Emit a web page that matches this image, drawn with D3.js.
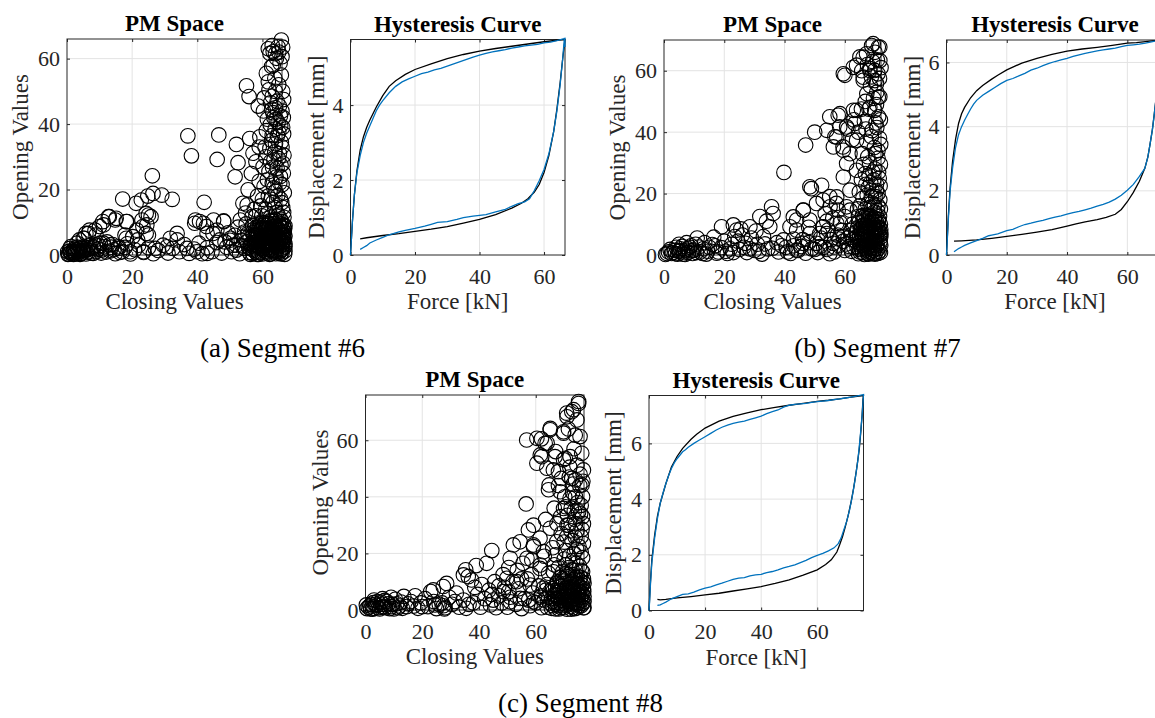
<!DOCTYPE html>
<html>
<head>
<meta charset="utf-8">
<script src="https://cdn.jsdelivr.net/npm/d3@7"></script>
<style>
  body { margin: 0; background: #fff; }
  text { font-family: "Liberation Serif", "Times New Roman", serif; }
</style>
</head>
<body>
<div id="fig"></div>
<script>
// --- 1. DATA ---
const pmTicks = [0, 20, 40, 60];
const captions = ["(a) Segment #6", "(b) Segment #7", "(c) Segment #8"];

// PM space, segment #6: [closing, opening]
const pmA = [
  [37.1,36.4],[38.2,30.3],[46.6,36.7],[46.1,29.2],[26.2,24.2],[17.1,17.1],[21.2,15.8],[22.8,16.8],[24.8,18.0],[26.4,18.8],
  [29.1,18.3],[32.3,17.0],[42.1,16.1],[52.0,33.8],[52.5,28.2],[51.6,23.9],[55.1,51.7],[55.9,48.4],[58.7,45.5],[56.1,35.6],
  [59.2,36.1],[57.1,31.1],[56.6,24.9],[55.6,19.9],[54.0,15.8],
  [62.3,61.6],[63.3,62.1],[64.8,63.6],[65.8,65.7],[64.3,60.1],[62.8,57.6],[61.2,55.5],[63.8,54.0],[61.8,52.9],[65.4,58.6],
  [66.0,60.6],[63.0,48.5],[62.0,50.5],[64.5,47.0],[66.0,44.0],[63.5,42.0],[61.5,41.5],[64.8,40.5],[66.2,39.0],[65.0,37.5],
  [63.0,36.5],[64.0,34.0],[62.3,32.5],[66.0,33.0],[65.2,31.0],[61.0,30.0],[63.5,29.0],[66.3,28.0],[64.5,26.5],[62.0,25.5],
  [65.5,24.0],[63.0,22.0],[60.5,21.0],[66.0,21.5],[64.0,19.5],[61.8,18.0],[65.6,17.0],[63.2,16.0],[59.5,15.0],[66.2,14.5],
  [64.4,13.0],[61.5,12.5],[58.0,12.0],[65.5,11.0],[63.0,10.5],[60.0,10.0],[57.0,9.0],
  [64.0,45.0],[65.5,42.5],[62.8,44.5],[65.0,52.0],[66.2,50.0],[63.3,58.0],
  [62.5,11.5],[64.8,12.2],[66.5,13.0],[63.8,14.5],[65.9,16.0],[62.6,17.0],[64.7,18.2],[66.7,19.0],[63.5,20.5],[65.3,22.0],
  [61.5,23.0],[64.2,23.8],[66.4,25.0],[63.1,26.8],[65.7,27.5],[62.5,28.5],[64.9,29.5],[66.6,30.5],[63.8,31.5],[65.8,34.5],
  [62.8,35.0],[64.6,36.5],[66.5,37.0],[63.9,38.5],[65.6,39.5],[62.4,39.8],[64.2,41.5],[66.4,42.0],[63.2,43.5],[65.2,45.5],
  [60.2,27.0],[59.0,22.5],[58.5,18.0],[60.0,17.0],[61.0,14.0],[59.8,12.0],[57.5,14.0],[60.8,33.0],[61.2,38.0],[58.0,28.5],
  [64.0,50.0],[65.8,55.0],[62.5,46.5],[66.5,47.5],[60.5,48.0],[63.0,64.0],[64.0,61.5],[65.0,62.0],[66.2,63.5],[61.8,63.0],
  [60.3,44.0],[59.0,33.0],
  [11.0,10.2],[13.0,11.7],[15.1,11.2],[18.2,10.2],[10.0,8.7],[6.9,7.6],[5.8,6.6],[8.9,6.1],[3.8,4.6],[5.3,5.1],
  [24.3,12.7],[25.8,11.7],[23.3,8.7],[21.7,4.6],[24.3,6.6],[20.2,5.6],[18.2,5.1],[39.2,9.7],[40.7,10.2],[42.8,8.7],
  [48.1,10.4],[44.8,6.6],[46.9,4.6],
  [12.7,11.7],[14.8,10.7],[18.4,10.2],[23.0,10.7],[25.0,12.2],[24.5,9.2],[21.4,7.6],[25.0,6.1],[17.8,6.1],[11.2,9.2],
  [8.6,7.6],[6.6,6.6],[5.0,5.1],[39.4,10.7],[41.9,9.7],[45.0,10.7],[48.1,10.2],[55.3,15.3],[54.8,12.8],[53.2,10.7],
  [56.8,11.7],
  [0.5,0.3],[1.2,0.8],[2.0,0.2],[2.8,1.5],[3.5,0.6],[4.2,2.2],[5.0,1.0],[5.8,0.3],[6.5,2.8],[7.2,1.2],
  [8.0,0.5],[8.8,3.0],[9.5,1.8],[10.5,0.6],[11.5,2.5],[12.3,4.0],[13.2,1.2],[14.0,3.2],[14.8,0.4],[15.8,2.0],
  [17.0,1.0],[18.5,3.4],[19.5,0.3],[20.8,1.6],[22.0,3.0],[23.5,0.8],[25.0,2.2],[26.5,0.4],[28.0,1.4],[29.5,3.0],
  [31.0,0.6],[32.5,2.0],[33.8,4.6],[34.5,1.0],[36.0,3.2],[37.5,0.5],[39.0,1.8],[40.5,3.6],[41.5,0.4],[43.0,2.2],
  [44.5,1.0],[46.0,3.8],[47.5,0.6],[49.0,2.4],[50.0,4.5],[50.5,1.0],[52.0,3.0],[53.0,0.4],[54.0,5.5],[54.5,2.0],
  [55.5,6.5],[56.0,0.8],
  [0.8,1.2],[1.5,0.4],[2.2,1.8],[2.6,0.9],[3.1,2.4],[3.8,1.3],[4.4,0.5],[4.9,2.0],[5.5,1.5],[6.1,0.8],
  [6.8,1.9],[7.5,0.6],[8.2,2.2],[9.0,1.0],[9.8,2.8],[10.6,1.5],[11.2,3.6],[12.0,0.9],[13.6,2.4],[14.4,1.6],
  [16.2,0.8],[17.8,2.3],[0.9,2.0],[0.2,1.0],[3.0,3.6],[8.1,2.5],[10.2,3.6],[13.2,3.1],[15.8,2.5],[19.4,1.0],
  [23.5,1.0],[27.1,2.0],[30.7,2.5],[36.8,2.0],[39.9,1.0],[43.0,0.5],[31.7,5.1],[33.8,6.6],[43.0,6.6],[46.0,7.6],
  [50.2,5.1],[51.5,6.0],[52.5,8.5],[53.5,4.5],[54.5,7.0],[55.0,9.5],[52.0,1.5],[53.8,2.8],[55.2,4.0],[51.0,3.0],
  [49.5,6.8],[48.5,4.0],
  [0.3,0.2],[1.0,0.6],[1.8,1.2],[2.5,0.3],[3.2,1.0],[4.0,0.2],[1.2,2.6],[2.0,0.8],[3.4,1.8],[4.6,1.4],
  [5.2,2.6],[6.2,1.6],
  [57.0,0.5],[57.5,2.5],[57.8,4.8],[58.2,7.0],[58.5,1.2],[58.9,3.5],[59.3,5.8],[59.6,8.2],[60.0,0.3],[60.3,2.0],
  [60.6,4.2],[60.9,6.5],[61.2,9.0],[61.5,1.0],[61.8,3.0],[62.1,5.2],[62.4,7.5],[62.7,0.4],[63.0,2.3],[63.2,4.5],
  [63.5,6.8],[63.8,8.8],[64.0,1.5],[64.2,3.6],[64.5,5.6],[64.7,7.8],[65.0,0.6],[65.2,2.6],[65.5,4.3],[65.7,6.2],
  [66.0,8.5],[66.2,1.8],[66.4,3.9],[66.6,5.4],[66.8,0.2],[66.5,7.2],[65.8,9.5],[64.9,9.8],[63.6,0.9],[62.0,1.6],
  [61.0,3.8],[60.2,5.0],[59.0,0.8],[58.0,3.0],[57.2,6.0],[56.5,3.5],[56.8,1.8],[60.5,7.5],[62.8,6.0],[64.3,2.4],
  [65.4,1.2],[66.1,3.0],[66.7,4.6],[66.3,6.0],[65.9,7.0],[64.6,8.3],[63.4,3.2],[62.5,4.0],[61.6,6.2],[59.8,2.8],
  [58.6,4.4],
  [57.3,1.5],[57.6,3.8],[58.0,5.9],[58.4,8.5],[58.8,0.2],[59.1,2.2],[59.5,4.3],[59.9,6.7],[60.4,9.2],[60.8,1.2],
  [61.1,3.2],[61.4,5.4],[61.7,7.9],[62.2,0.2],[62.6,2.8],[62.9,5.0],[63.3,7.3],[63.7,9.6],[64.1,0.4],[64.4,3.0],
  [64.8,5.2],[65.1,7.4],[65.3,9.0],[65.6,0.3],[65.9,2.1],[66.2,4.1],[66.5,6.4],[66.8,8.0],[66.9,2.5],[66.9,5.8],
  [66.0,0.6],[65.0,3.5],[64.0,6.4],[63.0,8.2],[62.0,9.5],[61.0,7.0],[60.0,4.6],[59.0,2.6],[58.3,6.2],[57.5,8.0],
  [56.2,5.0],[55.8,2.2],[56.3,0.2],[61.3,0.6],[63.9,4.9],[65.6,5.1],[66.4,9.2],[62.3,3.4],[60.7,2.6],[59.4,7.4],
  [57.1,3.1],[57.4,5.3],[57.9,7.4],[58.1,0.8],[58.7,2.8],[59.2,5.1],[59.7,7.8],[60.1,1.6],[60.5,3.5],[60.9,5.7],
  [61.3,8.2],[61.6,2.2],[62.0,4.4],[62.3,6.6],[62.7,1.4],[63.1,3.6],[63.4,5.8],[63.8,7.9],[64.2,0.9],[64.6,2.9],
  [64.9,4.8],[65.2,6.8],[65.5,8.4],[65.8,1.5],[66.1,3.6],[66.4,5.2],[66.7,7.0],[66.9,1.2],[66.9,3.4],[66.9,8.9],
  [56.6,2.8],[56.9,6.8],[57.7,9.2],[59.2,9.5],[60.7,9.8],[62.2,10.4],[64.0,10.8],[65.9,10.2],[66.6,11.5],[58.4,0.2]
];

// PM space, segment #7
const pmB = [
  [47.0,35.8],[39.8,26.9],[48.4,22.2],[48.9,21.6],[50.0,40.0],[55.0,45.0],[57.8,45.5],[58.3,41.7],[56.7,38.5],[59.4,35.2],
  [62.8,47.1],[63.9,37.4],[61.7,33.0],[60.6,29.8],
  [59.5,59.0],[62.8,61.1],[66.1,64.4],[68.9,68.2],[71.1,67.6],[71.6,63.3],[68.3,60.1],[66.1,57.9],[70.0,56.8],[71.1,51.4],
  [68.3,48.1],[58.4,46.0],[54.0,40.6],[57.3,38.4],[60.6,41.7],[63.9,47.1],[63.3,42.8],[56.2,35.2],[59.5,34.1],[52.3,22.7],
  [59.5,25.4],[63.9,27.6],[61.7,21.1],[57.3,18.9],[55.1,15.7],[50.6,16.8],[46.2,14.6],[42.9,12.4],[48.4,11.4],[52.8,9.2],
  [57.3,10.3],[61.7,14.6],[54.0,7.0],[48.4,7.0],[44.0,8.1],[46.2,3.8],[51.7,2.7],[56.2,3.8],[59.5,5.9],[44.0,1.6],
  [60.0,58.5],[63.9,61.8],[65.0,64.5],[67.2,65.5],[69.4,68.8],[71.6,67.7],[68.3,60.7],[69.9,60.1],[66.1,56.9],[70.5,55.8],
  [71.6,51.5],[69.9,47.1],[70.8,63.5],[67.5,62.0],[71.0,59.0],[68.5,55.0],[69.5,51.0],[71.2,45.0],[68.0,47.5],[70.3,43.0],
  [66.5,43.5],[69.0,40.5],[71.5,38.0],[67.3,37.0],[69.8,35.0],[65.8,33.0],[71.0,31.5],[68.2,30.0],[70.0,28.0],[66.8,26.5],
  [71.4,25.0],[68.6,23.5],[65.5,24.5],[70.4,21.0],[67.4,19.5],[71.6,18.0],[69.0,17.0],[65.0,16.0],[70.8,14.5],[67.8,13.0],
  [64.5,12.5],[71.2,11.5],[69.2,10.5],[66.2,9.8],[62.5,10.0],[70.0,8.5],[67.0,7.5],[71.5,6.5],[64.0,6.0],[68.5,5.0],
  [61.0,5.5],[70.8,3.5],[66.0,3.0],[63.0,2.5],[69.5,1.5],[71.8,0.8],[67.5,0.5],[65.0,1.0],[60.0,1.5],[58.0,3.0],
  [56.5,1.0],[62.0,8.0],[69.8,12.0],[66.8,15.0],[70.2,19.0],[68.0,26.0],[71.0,34.0],[67.0,41.0],[70.5,49.0],[68.8,58.0],
  [63.0,44.0],[65.5,47.5],[61.0,41.0],
  [71.8,44.0],[70.6,41.5],[68.8,38.5],[71.9,36.0],[70.2,33.0],[67.6,32.0],[71.8,29.5],[69.3,27.0],[66.2,29.5],[71.7,22.5],
  [69.6,24.5],[67.0,23.0],[64.8,20.5],[71.0,20.0],[68.8,19.0],[66.0,18.5],[71.8,15.0],[69.8,16.0],[67.6,16.5],[64.2,15.0],
  [70.6,53.0],[67.3,52.5],[71.5,57.5],[69.2,63.0],[65.6,60.0],[70.0,66.0],[72.0,61.0],[66.8,50.0],[64.5,40.0],[62.5,37.5],
  [64.5,0.4],[65.5,2.2],[66.5,4.5],[67.3,6.8],[68.0,9.0],[68.8,1.0],[69.6,3.2],[70.4,5.5],[71.2,7.8],[71.8,10.0],
  [64.8,4.0],[65.8,6.0],[66.8,8.0],[67.8,2.5],[68.6,4.0],[69.4,6.0],[70.2,8.0],[71.0,2.0],[71.7,4.5],[70.6,10.5],
  [69.0,11.5],[67.5,10.5],[66.0,11.0],[65.2,8.5],[64.2,8.8],[63.5,4.5],[70.0,0.3],[68.2,0.8],[66.5,0.2],[71.5,12.5],
  [69.8,14.0],[68.4,15.5],[67.0,13.0],[71.0,16.0],[70.5,23.0],[69.0,21.0],[67.8,22.0],[71.2,27.0],
  [65.0,1.8],[66.0,5.2],[67.0,3.3],[67.8,5.8],[68.5,7.6],[69.2,2.4],[69.9,4.6],[70.7,6.8],[71.4,9.0],[71.9,3.2],
  [71.9,5.9],[70.9,0.5],[69.6,8.8],[68.2,10.2],[66.9,9.6],[65.5,7.2],[64.6,10.5],[63.8,7.5],[62.8,5.0],[62.2,1.2],
  [65.8,12.8],[67.9,11.8],[70.0,11.0],[71.9,7.2],[69.4,0.5],[67.2,1.6],[66.3,7.0],[68.9,6.8],[70.5,3.0],[64.0,2.8],
  [65.2,3.2],[65.9,0.8],[66.4,2.6],[66.9,5.0],[67.5,7.2],[67.9,0.3],[68.2,3.0],[68.7,5.5],[69.0,8.0],[69.4,9.8],
  [69.8,2.0],[70.2,4.2],[70.6,6.2],[71.0,8.8],[71.4,1.2],[71.7,3.8],[71.9,6.6],[71.9,8.4],[70.3,1.0],[68.4,2.0],
  [66.7,6.4],[65.6,8.6],[64.9,5.6],[66.0,9.6],[67.6,8.8],[69.9,7.2],[71.2,10.8],[68.6,12.6],[70.4,13.0],[66.4,12.2],
  [19.1,9.2],[23.0,9.8],[24.1,8.1],[28.5,9.2],[31.8,12.5],[35.7,15.7],[36.2,13.5],[35.1,9.2],[41.8,9.2],[44.0,11.4],
  [46.2,14.6],[39.6,4.9],[52.8,17.9],[55.0,19.0],[57.2,16.8],[57.8,14.6],[60.6,15.7],[52.8,9.2],[54.5,8.1],[51.7,7.0],
  [50.6,3.8],[56.0,12.0],[58.5,10.5],[60.0,12.5],[54.0,11.0],[48.0,9.0],[46.0,5.0],[43.0,3.0],[37.5,4.0],[33.0,6.0],
  [31.0,3.5],[29.0,5.5],[26.5,2.5],[24.5,4.5],[22.0,2.0],[20.0,4.5],[18.0,1.0],[16.5,5.8],[15.0,2.5],[13.5,4.0],
  [12.0,1.0],[10.5,3.5],[9.5,0.5],[8.5,2.5],[7.5,4.0],[6.5,1.0],[5.5,2.0],[4.5,0.3],[3.5,1.5],[2.5,0.5],
  [1.5,1.0],[0.5,0.2],[11.0,5.5],[14.0,0.3],[17.0,3.0],[21.0,0.5],[23.5,6.0],[27.5,0.8],[30.0,1.5],[32.5,0.3],
  [34.5,2.0],[38.0,1.0],[40.5,2.5],[42.0,0.5],[44.5,1.5],[47.0,0.6],[49.0,2.0],[51.0,0.8],[53.0,2.5],[55.0,0.4],
  [57.5,6.5],[59.5,4.5],[61.5,2.8],[59.0,8.0],[55.5,5.0],[53.5,13.5],[34.0,11.0],[26.0,6.5],[5.0,3.5],[7.0,0.2],
  [1.0,0.5],[2.0,1.8],[3.0,0.8],[4.0,2.5],[4.8,1.2],[6.0,2.8],[7.0,1.6],[8.0,0.8],[9.0,3.0],[10.0,1.6],
  [11.5,2.6],[12.8,0.5],[13.0,2.0],[14.5,1.2],[16.0,3.4],[17.5,0.6],[19.0,2.4],[20.5,1.2],[22.5,3.5],[23.0,0.8],
  [25.0,1.8],[27.0,3.8],[28.5,2.0],[31.5,1.2],[33.5,3.6],[36.0,2.2],[39.0,3.0],[41.0,1.0],[43.0,5.2],[45.5,2.8],
  [48.0,4.0],[50.0,1.8],[52.0,5.5],[54.0,1.8],[56.5,2.6],[58.0,5.2],[60.5,3.6],[62.0,6.5],[25.5,8.5],[30.5,7.8],
  [3.8,0.4],[5.2,1.4],[6.4,0.3],[7.8,2.0],[9.2,1.4],[10.8,0.8]
];

// PM space, segment #8
const pmC = [
  [56.6,37.5],[44.5,21.0],[42.7,16.5],[39.0,15.7],[35.3,14.2],[36.2,11.8],[37.4,10.6],[34.5,12.4],[52.1,23.0],[57.4,28.3],
  [61.5,25.4],[59.2,22.4],[58.6,17.7],[61.5,14.7],[64.5,13.0],[56.8,60.1],[60.4,51.9],[62.1,54.2],[65.1,63.7],[64.5,42.5],
  [66.2,49.5],[69.8,62.5],[70.9,69.6],[73.3,70.8],[75.1,73.7],[74.5,67.2],[75.6,61.3],[76.2,55.4],[76.8,49.5],[72.1,54.2],
  [69.8,53.1],
  [75.1,73.0],[72.7,70.1],[71.0,68.3],[65.1,64.2],[60.4,60.7],[63.3,58.9],[69.8,63.0],[73.9,61.8],[61.6,54.8],[66.8,54.2],
  [70.4,53.6],[74.5,51.2],[63.9,50.1],[68.0,48.9],[72.7,46.5],[76.3,44.2],[64.7,44.2],[68.6,41.8],[72.1,39.5],
  [69.8,35.9],[75.1,34.7],[59.2,30.0],[65.1,28.9],[71.0,30.0],[54.5,24.1],[59.2,23.0],[62.7,20.6],[67.4,24.1],[51.0,18.3],
  [56.9,18.3],[61.6,15.9],[66.2,13.5],[49.8,11.2],[53.3,10.0],[58.0,8.8],[62.7,7.7],[48.6,6.5],[54.5,4.1],[59.2,2.9],
  [51.0,2.9],
  [74.0,46.0],[75.5,44.0],[73.0,41.5],[76.5,40.0],[74.8,38.0],[72.5,36.0],[75.8,34.0],[73.8,32.0],[76.8,30.5],[71.5,30.0],
  [74.5,28.0],[76.0,26.0],[72.8,24.5],[75.2,22.5],[70.5,21.0],[73.5,20.0],[76.5,18.5],[74.2,16.5],[71.8,15.0],[76.0,14.0],
  [73.0,12.5],[69.5,11.0],[75.5,10.5],[72.0,9.0],[67.5,9.5],[74.8,7.5],[70.8,7.0],[76.6,5.5],[73.2,5.0],[68.5,4.5],
  [66.0,3.0],[71.5,3.0],[75.0,2.5],[76.8,0.8],[73.8,0.5],[70.0,0.8],[67.8,1.5],[65.5,0.6],[68.0,7.0],[69.5,13.5],
  [70.0,18.0],[71.0,26.0],[68.8,33.0],[70.2,40.0],[71.8,47.0],[66.5,36.0],[68.0,44.0],[73.5,57.0],[67.0,56.0],[64.0,59.0],
  [62.0,60.5],[71.5,64.0],[69.0,46.5],[63.5,32.0],[66.0,22.0],[63.0,19.0],[66.5,16.0],[64.0,9.0],[62.0,5.0],
  [75.6,48.0],[73.2,44.5],[76.0,37.0],[73.6,35.0],[71.2,33.5],[76.5,33.0],[74.0,30.5],[72.4,28.0],[76.3,28.5],[73.9,25.8],
  [70.0,24.0],[76.8,23.5],[74.4,21.5],[71.8,19.0],[76.0,20.5],[73.0,17.5],[75.4,15.5],[70.6,16.0],[72.8,14.2],[76.8,11.0],
  [74.6,12.0],[71.4,12.5],[68.0,15.0],[67.0,19.5],[69.0,27.0],[70.5,36.5],[67.5,30.5],[74.0,40.0],[76.6,45.5],[72.0,50.5],
  [66.5,5.5],[67.3,2.8],[68.2,0.4],[69.0,3.5],[69.8,6.0],[70.6,1.8],[71.4,4.6],[72.2,7.2],[73.0,2.2],[73.8,4.0],
  [74.6,6.0],[75.4,8.2],[76.2,3.5],[76.9,6.5],[72.5,0.3],[74.2,9.5],[75.8,11.5],[73.5,10.8],[70.5,9.5],[71.0,11.8],
  [76.5,13.5],[74.0,14.0],[77.0,9.5],[75.0,5.0],[76.0,1.5],[72.0,5.5],[69.2,8.5],[67.6,10.0],
  [66.0,1.5],[66.8,4.0],[67.6,6.2],[68.4,8.5],[68.8,2.2],[69.5,4.8],[70.2,7.6],[70.9,3.8],[71.6,6.2],[72.4,1.2],
  [72.8,3.8],[73.4,6.5],[74.0,8.5],[74.4,2.0],[75.0,3.8],[75.6,6.4],[76.3,8.8],[76.7,2.4],[77.0,4.8],[74.8,0.8],
  [71.0,0.3],[69.0,0.8],[67.0,0.4],[65.0,2.5],[64.5,4.5],[65.8,7.5],[73.0,8.0],[71.8,9.8],[69.8,10.2],[76.8,7.5],
  [67.0,2.0],[67.8,4.2],[68.6,6.8],[69.3,1.5],[69.9,3.2],[70.4,5.2],[71.0,7.8],[71.8,2.6],[72.6,4.8],[73.2,0.8],
  [73.6,6.8],[74.2,3.2],[74.8,9.0],[75.3,1.6],[75.8,4.4],[76.2,6.0],[76.6,9.8],[77.0,3.0],[77.0,0.8],[76.0,8.0],
  [74.0,11.5],[72.6,10.2],[70.8,12.8],[68.6,11.6],[67.0,8.0],[66.2,6.8],[65.6,4.0],[73.8,2.6],[75.2,6.8],[72.2,3.0],
  [0.5,0.5],[1.5,1.5],[2.5,0.3],[3.5,2.0],[4.5,0.8],[5.5,2.8],[6.5,1.2],[7.5,3.0],[8.5,0.5],[9.5,2.0],
  [10.5,3.8],[11.5,0.8],[12.5,2.8],[13.5,4.8],[14.5,1.2],[16.0,3.0],[17.5,5.0],[18.5,0.6],[19.5,2.5],[21.0,4.0],
  [22.0,1.2],[23.0,6.5],[24.0,3.0],[25.0,0.5],[26.0,2.0],[27.4,8.3],[28.6,9.4],[23.9,7.1],[27.5,1.5],[28.0,0.8],
  [29.5,4.5],[30.5,2.0],[32.0,6.0],[33.0,1.0],[34.5,3.5],[35.5,0.6],[38.0,2.5],[39.5,5.5],[40.5,1.0],[42.0,4.0],
  [43.5,7.0],[44.0,1.8],[45.0,3.5],[46.0,0.8],[47.0,5.0],[48.0,2.5],[49.0,8.0],[50.0,1.0],[51.0,4.5],[52.0,10.0],
  [53.0,2.0],[54.0,7.5],[55.0,0.5],[56.0,4.0],[57.0,11.0],[58.0,1.5],[59.0,6.0],[60.0,2.5],[61.0,8.5],[62.0,0.8],
  [63.0,3.5],[64.0,1.0],[65.0,6.5],[48.5,12.5],[50.5,15.0],[53.5,14.0],[55.0,11.0],[45.5,10.0],[41.0,9.0],[6.0,4.0],
  [9.0,4.5],[3.0,3.5],
  [1.0,1.0],[2.0,2.0],[3.0,0.6],[4.0,1.6],[5.0,0.4],[6.0,2.0],[7.0,0.8],[8.0,2.2],[9.0,1.2],[10.0,0.4],
  [11.0,2.2],[12.0,1.4],[13.0,0.6],[15.0,2.2],[17.0,1.4],[20.0,1.2],[24.5,1.8],[27.0,2.5],[27.8,0.4],[31.5,3.0],
  [36.5,2.0],[44.5,5.5],[50.5,6.5],[57.5,3.5],[61.5,4.5],[63.5,7.0],[58.5,12.5],[55.5,16.5],[47.0,8.5],[38.5,8.0],
  [0.3,1.8],[1.8,0.4],[2.8,2.6],[4.2,3.0],[5.8,1.0],[6.8,3.4]
];

// Hysteresis curves: [force kN, displacement mm]
const hystAModel = [
  [3,0.43],[5,0.46],[10,0.52],[15,0.57],[20,0.63],[25,0.69],[30,0.76],[35,0.85],[40,0.95],[45,1.08],[50,1.25],[53,1.38],
  [55,1.5],[57,1.68],[58.5,1.88],[60,2.2],[61.5,2.65],[63,3.3],[64,3.9],[65,4.6],[65.8,5.25],[66.5,5.75],[64,5.73],
  [60,5.69],[55,5.63],[50,5.57],[45,5.51],[40,5.44],[35,5.35],[30,5.24],[25,5.1],[20,4.95],[17,4.82],[14,4.65],[12,4.5],
  [10,4.25],[8,3.95],[6,3.6],[5,3.4],[4,3.15],[3,2.8],[2,2.25],[1.2,1.6],[0.6,0.9],[0.2,0.3],[0,0]
];
const hystAMeas = [
  [3,0.15],[4,0.2],[5,0.25],[6,0.32],[7,0.36],[8,0.4],[10,0.47],[12,0.54],[15,0.62],[17,0.66],[20,0.71],[23,0.77],
  [25,0.82],[27,0.87],[30,0.89],[33,0.95],[35,1.0],[38,1.04],[40,1.06],[42,1.08],[45,1.15],[48,1.22],[50,1.3],[52,1.37],
  [54,1.42],[55.5,1.5],[57,1.72],[58.5,1.98],[60,2.28],[61.5,2.7],[63,3.3],[64,3.85],[65,4.55],[65.8,5.25],[66.3,5.78],
  [66.5,5.78],[66.5,5.55],[66.5,5.78],[64,5.72],[62,5.68],[60,5.66],[58,5.62],[56,5.6],[54,5.58],[52,5.55],[50,5.52],
  [48,5.48],[46,5.45],[44,5.42],[42,5.38],[40,5.33],[38,5.28],[36,5.22],[34,5.16],[32,5.1],[30,5.04],[28,4.98],[26,4.94],
  [24,4.88],[22,4.84],[20,4.77],[18,4.7],[16,4.62],[14,4.5],[12,4.33],[10,4.12],[9,4.0],[8,3.85],[7,3.65],[6,3.45],
  [5,3.25],[4,3.0],[3,2.65],[2,2.2],[1.2,1.6],[0.6,0.9],[0.2,0.3],[0,0]
];
const hystBModel = [
  [2.5,0.43],[5,0.44],[10,0.47],[15,0.52],[20,0.58],[25,0.64],[30,0.71],[35,0.79],[40,0.9],[43,0.97],[46,1.03],[50,1.1],
  [53,1.17],[56,1.27],[58,1.42],[60,1.66],[62,1.95],[64,2.3],[65.8,2.7],[66.8,3.05],[67.5,3.43],[68.3,3.9],[68.9,4.36],
  [69.8,5.1],[70.8,5.9],[71.6,6.6],[72,6.7],[69,6.68],[66,6.65],[63,6.62],[60,6.6],[55,6.53],[50,6.47],[45,6.42],
  [40,6.35],[35,6.25],[30,6.13],[25,5.98],[20,5.77],[17,5.6],[15,5.48],[12,5.28],[10,5.12],[8,4.9],[6,4.6],[5,4.4],
  [4,4.1],[3,3.6],[2,2.9],[1.2,2.1],[0.6,1.2],[0.2,0.4],[0,0]
];
const hystBMeas = [
  [2.5,0.1],[4,0.2],[5,0.25],[6,0.3],[8,0.38],[10,0.45],[12,0.52],[14,0.6],[15,0.62],[17,0.66],[20,0.76],[22,0.8],
  [24,0.88],[26,0.95],[28,0.99],[30,1.04],[32,1.08],[34,1.13],[36,1.18],[38,1.22],[40,1.27],[42,1.32],[44,1.36],[46,1.41],
  [48,1.46],[50,1.52],[52,1.58],[54,1.65],[56,1.74],[58,1.86],[60,2.02],[62,2.2],[64,2.45],[65.8,2.7],[66.8,3.05],
  [67.5,3.43],[68.3,3.9],[68.9,4.36],[69.8,5.1],[70.8,5.9],[71.6,6.6],[72,6.7],[70,6.68],[68,6.64],[66,6.6],[64,6.57],
  [62,6.55],[60,6.53],[58,6.49],[56,6.45],[54,6.42],[52,6.39],[50,6.36],[48,6.32],[46,6.28],[44,6.24],[42,6.19],[40,6.13],
  [38,6.08],[36,6.03],[34,5.97],[32,5.9],[30,5.82],[28,5.76],[26,5.66],[24,5.58],[22,5.5],[20,5.44],[18,5.34],[16,5.22],
  [14,5.1],[12,4.98],[10,4.82],[9,4.7],[8,4.55],[7,4.38],[6,4.2],[5,4.0],[4,3.75],[3,3.35],[2,2.7],[1.2,2.0],[0.6,1.1],
  [0.2,0.35],[0,0]
];
const hystCModel = [
  [3,0.4],[4,0.38],[6,0.4],[10,0.45],[15,0.5],[20,0.56],[25,0.62],[30,0.7],[35,0.78],[40,0.86],[45,0.97],[50,1.1],
  [55,1.27],[60,1.46],[63,1.65],[65,1.82],[67,2.1],[68,2.36],[69,2.65],[70,3.0],[71,3.4],[72,3.86],[73,4.4],[74,5.05],
  [75,5.8],[75.5,6.37],[76,7.0],[76.3,7.57],[76.5,7.72],[72,7.66],[68,7.6],[64,7.55],[60,7.51],[55,7.44],[50,7.37],
  [45,7.29],[40,7.21],[35,7.1],[30,6.97],[25,6.8],[20,6.55],[17,6.33],[15,6.15],[12,5.82],[10,5.53],[8,5.15],[6,4.55],
  [5,4.2],[4,3.85],[3,3.38],[2,2.7],[1,1.8],[0.5,1.0],[0.2,0.4],[0,0]
];
const hystCMeas = [
  [3,0.18],[4,0.2],[5,0.25],[6,0.3],[7,0.36],[8,0.42],[10,0.5],[12,0.58],[14,0.6],[16,0.66],[18,0.74],[20,0.8],
  [22,0.85],[24,0.92],[26,0.98],[28,1.05],[30,1.12],[32,1.16],[34,1.18],[36,1.24],[38,1.28],[40,1.3],[42,1.36],[44,1.4],
  [46,1.46],[48,1.53],[50,1.58],[52,1.64],[54,1.72],[56,1.8],[58,1.9],[60,1.98],[62,2.05],[64,2.14],[66,2.25],[67.5,2.4],
  [68.5,2.6],[69.5,2.9],[70.5,3.2],[71.5,3.6],[72.5,4.1],[73.5,4.7],[74.5,5.4],[75.3,6.2],[76,7.0],[76.4,7.6],[76.5,7.75],
  [74,7.7],[72,7.66],[70,7.63],[68,7.6],[66,7.57],[64,7.54],[62,7.52],[60,7.5],[58,7.47],[56,7.44],[54,7.42],[52,7.4],
  [50,7.37],[48,7.3],[46,7.2],[44,7.14],[42,7.07],[40,6.98],[38,6.92],[36,6.86],[34,6.8],[32,6.76],[30,6.72],[28,6.66],
  [26,6.58],[24,6.48],[22,6.36],[20,6.24],[18,6.12],[16,6.0],[14,5.86],[13,5.77],[12,5.7],[10,5.45],[9,5.3],[8,5.1],
  [7,4.85],[6,4.55],[5,4.22],[4,3.85],[3,3.3],[2,2.6],[1,1.7],[0.5,0.9],[0.2,0.3],[0,0]
];

// --- 2. SETUP ---
const W = 1155, H = 718;
const svg = d3.select("#fig").append("svg")
    .attr("width", W)
    .attr("height", H);
svg.append("rect").attr("width", W).attr("height", H).attr("fill", "#fff");

const axisColor = "#262626";
const gridColor = "#e3e3e3";
const fontStack = '"Liberation Serif", "Times New Roman", serif';

// draws one MATLAB-style axes box and returns its scales
function drawAxes(cfg) {
    const x = d3.scaleLinear().domain(cfg.xDomain).range([cfg.left, cfg.right]);
    const y = d3.scaleLinear().domain(cfg.yDomain).range([cfg.bottom, cfg.top]);
    const g = svg.append("g");

    // grid
    g.selectAll(".gx").data(cfg.xTicks.filter(t => t > 0)).join("line")
        .attr("x1", d => x(d)).attr("x2", d => x(d))
        .attr("y1", cfg.top).attr("y2", cfg.bottom)
        .attr("stroke", gridColor).attr("stroke-width", 1);
    g.selectAll(".gy").data(cfg.yTicks.filter(t => t > 0)).join("line")
        .attr("y1", d => y(d)).attr("y2", d => y(d))
        .attr("x1", cfg.left).attr("x2", cfg.right)
        .attr("stroke", gridColor).attr("stroke-width", 1);

    // ticks on all four sides, pointing inwards
    const fmt = d => String(d);
    const bottom = g.append("g").attr("transform", `translate(0,${cfg.bottom})`)
        .call(d3.axisBottom(x).tickValues(cfg.xTicks).tickFormat(fmt).tickSize(-3).tickPadding(13));
    const left = g.append("g").attr("transform", `translate(${cfg.left},0)`)
        .call(d3.axisLeft(y).tickValues(cfg.yTicks).tickFormat(fmt).tickSize(-3).tickPadding(7));
    g.append("g").attr("transform", `translate(0,${cfg.top})`)
        .call(d3.axisTop(x).tickValues(cfg.xTicks).tickSize(-3).tickFormat(""));
    g.append("g").attr("transform", `translate(${cfg.right},0)`)
        .call(d3.axisRight(y).tickValues(cfg.yTicks).tickSize(-3).tickFormat(""));
    g.selectAll(".domain").remove();
    g.selectAll(".tick line").attr("stroke", axisColor);
    [bottom, left].forEach(a => a.selectAll("text")
        .attr("fill", axisColor)
        .style("font-size", "22px")
        .style("font-family", fontStack));

    // box
    g.append("rect")
        .attr("x", cfg.left).attr("y", cfg.top)
        .attr("width", cfg.right - cfg.left).attr("height", cfg.bottom - cfg.top)
        .attr("fill", "none").attr("stroke", axisColor).attr("stroke-width", 1);

    const cx = (cfg.left + cfg.right) / 2;
    const cy = (cfg.top + cfg.bottom) / 2;
    g.append("text")
        .attr("x", cx).attr("y", cfg.top - 8)
        .attr("text-anchor", "middle")
        .style("font-size", "23px").style("font-weight", "bold")
        .text(cfg.title);
    g.append("text")
        .attr("x", cx).attr("y", cfg.bottom + 54)
        .attr("text-anchor", "middle").attr("fill", axisColor)
        .style("font-size", "23px")
        .text(cfg.xLabel);
    g.append("text")
        .attr("transform", `translate(${cfg.left - cfg.yLabelGap},${cy}) rotate(-90)`)
        .attr("text-anchor", "middle").attr("fill", axisColor)
        .style("font-size", "23px")
        .text(cfg.yLabel);

    return { g, x, y };
}

function drawScatter(cfg, points) {
    const { g, x, y } = drawAxes(cfg);
    g.append("g").selectAll("circle").data(points).join("circle")
        .attr("cx", d => x(d[0]))
        .attr("cy", d => y(d[1]))
        .attr("r", 7.3)
        .attr("fill", "none")
        .attr("stroke", "#000")
        .attr("stroke-width", 1.1);
}

function drawHyst(cfg, model, meas) {
    const { g, x, y } = drawAxes(cfg);
    const line = d3.line().x(d => x(d[0])).y(d => y(d[1]));
    g.append("path").datum(model).attr("d", line)
        .attr("fill", "none").attr("stroke", "#000").attr("stroke-width", 1.3);
    g.append("path").datum(meas).attr("d", line)
        .attr("fill", "none").attr("stroke", "#0072BD").attr("stroke-width", 1.3);
}

// --- 3. PANELS ---
const pmBase = { title: "PM Space", xLabel: "Closing Values", yLabel: "Opening Values",
                 xTicks: pmTicks, yTicks: pmTicks, yLabelGap: 39 };
const hyBase = { title: "Hysteresis Curve", xLabel: "Force [kN]", yLabel: "Displacement [mm]",
                 xTicks: [0, 20, 40, 60], yLabelGap: 27 };

drawScatter({ ...pmBase, left: 67, right: 282, top: 39, bottom: 255,
              xDomain: [0, 66], yDomain: [0, 66] }, pmA);
drawHyst({ ...hyBase, left: 350.5, right: 565, top: 39.5, bottom: 255,
           xDomain: [0, 66.5], yDomain: [0, 5.75], yTicks: [0, 2, 4] }, hystAModel, hystAMeas);

drawScatter({ ...pmBase, left: 664, right: 881, top: 40, bottom: 255,
              xDomain: [0, 72], yDomain: [0, 70] }, pmB);
drawHyst({ ...hyBase, left: 946.5, right: 1163.5, top: 40, bottom: 255,
           xDomain: [0, 72], yDomain: [0, 6.7], yTicks: [0, 2, 4, 6] }, hystBModel, hystBMeas);

drawScatter({ ...pmBase, left: 365.5, right: 584, top: 395, bottom: 610, yLabelGap: 38,
              xDomain: [0, 77], yDomain: [0, 76] }, pmC);
drawHyst({ ...hyBase, left: 649, right: 863.5, top: 395.5, bottom: 610.5, yLabelGap: 28,
           xDomain: [0, 76.5], yDomain: [0, 7.72], yTicks: [0, 2, 4, 6] }, hystCModel, hystCMeas);

// --- 4. CAPTIONS ---
const capPos = [[282.5, 357], [877.5, 357], [580.5, 712]];
svg.selectAll(".caption").data(captions).join("text")
    .attr("class", "caption")
    .attr("x", (d, i) => capPos[i][0])
    .attr("y", (d, i) => capPos[i][1])
    .attr("text-anchor", "middle")
    .style("font-size", "27px")
    .text(d => d);
</script>
</body>
</html>
